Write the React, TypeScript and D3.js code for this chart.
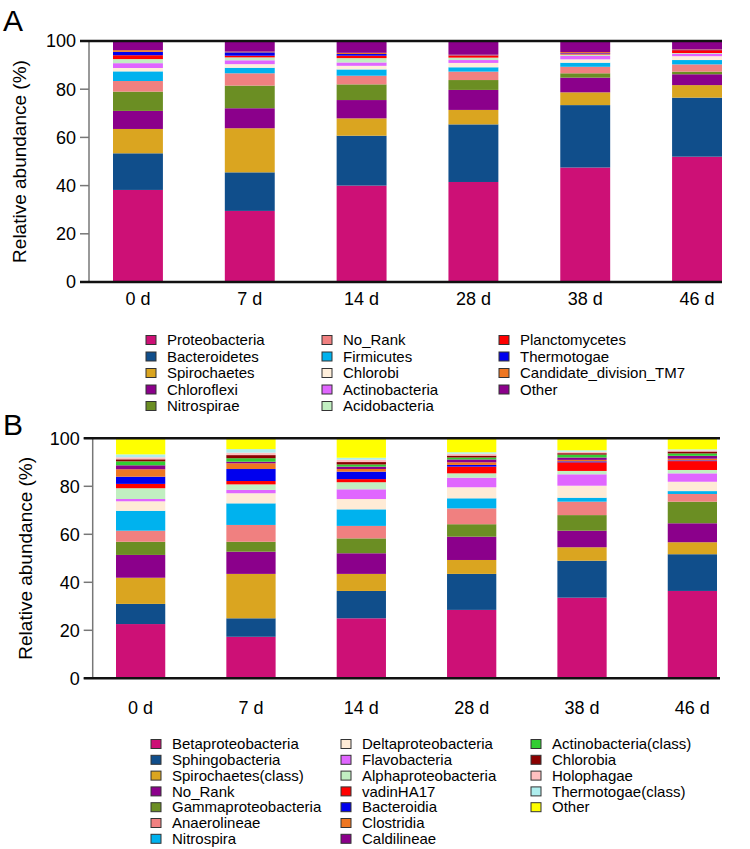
import React from 'react';
import * as d3 from 'd3';

const days = ['0 d', '7 d', '14 d', '28 d', '38 d', '46 d'];
const yTicks = [0, 20, 40, 60, 80, 100];

// panel A: phylum level, one row per taxon, one value per day (%)
const phylumNames = [
  'Proteobacteria', 'Bacteroidetes', 'Spirochaetes', 'Chloroflexi', 'Nitrospirae',
  'No_Rank', 'Firmicutes', 'Chlorobi', 'Actinobacteria', 'Acidobacteria',
  'Planctomycetes', 'Thermotogae', 'Candidate_division_TM7', 'Other'
];
const phylumColors = [
  '#CD1076', '#104E8B', '#DAA520', '#8B008B', '#6B8E23',
  '#F08080', '#00B2EE', '#FFEFDB', '#E066FF', '#C1EFC1',
  '#FF0000', '#0000EE', '#EE7621', '#8B008B'
];
const phylumValues = [
  [38.2, 29.5, 40.0, 41.5, 47.5, 52.0],
  [15.2, 16.0, 20.7, 23.9, 25.9, 24.5],
  [10.1, 18.3, 7.2, 6.0, 5.3, 5.2],
  [7.5, 8.3, 7.6, 8.3, 6.1, 4.5],
  [8.0, 9.4, 6.5, 4.1, 1.8, 1.1],
  [4.4, 5.1, 3.6, 3.5, 2.7, 3.0],
  [4.0, 2.3, 2.6, 1.8, 1.7, 1.8],
  [1.4, 1.5, 1.5, 1.8, 1.4, 1.6],
  [2.0, 1.6, 1.4, 1.2, 1.4, 1.0],
  [1.7, 1.2, 1.8, 1.0, 0.6, 0.3],
  [1.6, 0.7, 1.0, 0.9, 0.4, 1.2],
  [1.4, 1.4, 0.7, 0.1, 0.2, 0.1],
  [0.7, 0.3, 0.5, 0.2, 0.4, 0.2],
  [3.8, 4.4, 4.9, 5.7, 4.6, 3.5]
];

// panel B: class level
const classNames = [
  'Betaproteobacteria', 'Sphingobacteria', 'Spirochaetes(class)', 'No_Rank', 'Gammaproteobacteria',
  'Anaerolineae', 'Nitrospira', 'Deltaproteobacteria', 'Flavobacteria', 'Alphaproteobacteria',
  'vadinHA17', 'Bacteroidia', 'Clostridia', 'Caldilineae', 'Actinobacteria(class)',
  'Chlorobia', 'Holophagae', 'Thermotogae(class)', 'Other'
];
const classColors = [
  '#CD1076', '#104E8B', '#DAA520', '#8B008B', '#6B8E23',
  '#F08080', '#00B2EE', '#FFEBD6', '#E066FF', '#C1EFC1',
  '#FF0000', '#0000EE', '#EE7621', '#8B008B', '#32CD32',
  '#8B0000', '#FFC0C0', '#AEEEEE', '#FFFF00'
];
const classValues = [
  [22.6, 17.3, 25.0, 28.5, 33.6, 36.4],
  [8.4, 7.7, 11.4, 15.0, 15.4, 15.3],
  [10.9, 18.5, 7.1, 5.8, 5.6, 5.0],
  [9.5, 9.25, 8.6, 9.7, 6.9, 7.9],
  [5.5, 4.15, 6.2, 5.2, 6.5, 9.0],
  [4.6, 7.0, 5.2, 6.6, 5.6, 3.2],
  [8.3, 9.0, 6.9, 4.2, 1.65, 1.2],
  [3.95, 4.2, 4.3, 4.6, 5.0, 3.9],
  [0.95, 1.4, 4.05, 4.0, 4.75, 3.5],
  [4.5, 2.3, 2.95, 1.8, 1.4, 1.4],
  [1.8, 1.4, 1.3, 2.8, 3.6, 3.7],
  [3.0, 5.0, 3.1, 0.7, 0.4, 0.3],
  [3.1, 2.4, 1.1, 1.1, 0.6, 0.7],
  [1.65, 0.65, 1.0, 1.2, 1.0, 1.2],
  [1.65, 1.45, 0.9, 0.8, 1.2, 1.0],
  [0.85, 1.3, 1.0, 0.8, 0.6, 0.8],
  [0.85, 1.0, 1.0, 0.8, 0.6, 0.5],
  [1.2, 1.5, 0.8, 0.6, 0.6, 0.4],
  [6.7, 4.5, 8.1, 5.8, 5.0, 4.6]
];

const font = '"Liberation Sans", Arial, sans-serif';

type PanelProps = {
  letter: string;
  letterY: number;
  names: string[];
  colors: string[];
  values: number[][];
  top: number;
  bottom: number;
  axisX: number;
  barStart: number;
  barEnd: number;
  frameEnd: number;
  labelX: number;
  xLabelY: number;
  legendCols: number[];
  legendRows: number;
  legendY: number;
  legendStep: number;
  legendSize: number;
};

function Panel(p: PanelProps) {
  const x = d3.scaleBand<string>().domain(days).range([p.barStart, p.barEnd])
    .paddingInner(0.5536).paddingOuter(0);
  const y = d3.scaleLinear().domain([0, 100]).range([p.bottom, p.top]);

  const rows = days.map((d, j) => {
    const r: any = { day: d };
    p.names.forEach((n, i) => { r[n] = p.values[i][j]; });
    return r;
  });
  const series = d3.stack().keys(p.names)(rows);

  return (
    <g>
      <text x={3} y={p.letterY} fontSize={30} fontFamily={font}>{p.letter}</text>
      {series.map((s, i) => (
        <g key={p.names[i]} fill={p.colors[i]}>
          {s.map((d: any, j) => (
            <rect key={j} x={x(days[j])} width={x.bandwidth()}
              y={y(d[1])} height={Math.max(0, y(d[0]) - y(d[1]))} />
          ))}
        </g>
      ))}
      <line x1={p.axisX} x2={p.axisX} y1={p.top} y2={p.bottom} stroke="#777" strokeWidth={1.5} />
      {yTicks.map(t => (
        <g key={t}>
          <line x1={p.axisX - 9} x2={p.axisX} y1={y(t)} y2={y(t)} stroke="#777" strokeWidth={1.5} />
          <text x={p.axisX - 13} y={y(t)} dy="0.36em" textAnchor="end" fontSize={18} fontFamily={font}>{t}</text>
        </g>
      ))}
      <line x1={p.axisX - 9} x2={p.frameEnd} y1={p.top} y2={p.top} stroke="#111" strokeWidth={2.5} />
      <line x1={p.axisX - 9} x2={p.frameEnd} y1={p.bottom} y2={p.bottom} stroke="#111" strokeWidth={2.5} />
      <text transform={`translate(${p.labelX},${(p.top + p.bottom) / 2}) rotate(-90)`}
        textAnchor="middle" dy="0.35em" fontSize={19} fontFamily={font}>Relative abundance (%)</text>
      {days.map(d => (
        <text key={d} x={(x(d) as number) + x.bandwidth() / 2} y={p.xLabelY} textAnchor="middle"
          fontSize={18} fontFamily={font}>{d}</text>
      ))}
      {p.names.map((n, i) => {
        const col = Math.floor(i / p.legendRows);
        const row = i % p.legendRows;
        const cx = p.legendCols[col];
        const cy = p.legendY + row * p.legendStep;
        return (
          <g key={n}>
            <rect x={cx} y={cy - 4.5} width={10} height={9} fill={p.colors[i]} stroke="#333" strokeWidth={1} />
            <text x={cx + 21} y={cy} dy="0.35em" fontSize={p.legendSize} fontFamily={font}>{n}</text>
          </g>
        );
      })}
    </g>
  );
}

export default function App() {
  return (
    <div style={{ position: 'absolute', left: 0, top: 0 }}>
      <svg width={750} height={849} style={{ display: 'block', background: '#fff' }}>
        <Panel letter="A" letterY={31} names={phylumNames} colors={phylumColors} values={phylumValues}
          top={41} bottom={282} axisX={89} barStart={113} barEnd={722} frameEnd={722}
          labelX={19} xLabelY={305} legendCols={[146, 322, 499]} legendRows={5}
          legendY={340} legendStep={16.5} legendSize={15} />
        <Panel letter="B" letterY={435} names={classNames} colors={classColors} values={classValues}
          top={438.3} bottom={678.3} axisX={92.7} barStart={116} barEnd={717} frameEnd={720}
          labelX={25} xLabelY={714} legendCols={[151, 341, 531]} legendRows={7}
          legendY={744} legendStep={15.8} legendSize={15} />
      </svg>
    </div>
  );
}
